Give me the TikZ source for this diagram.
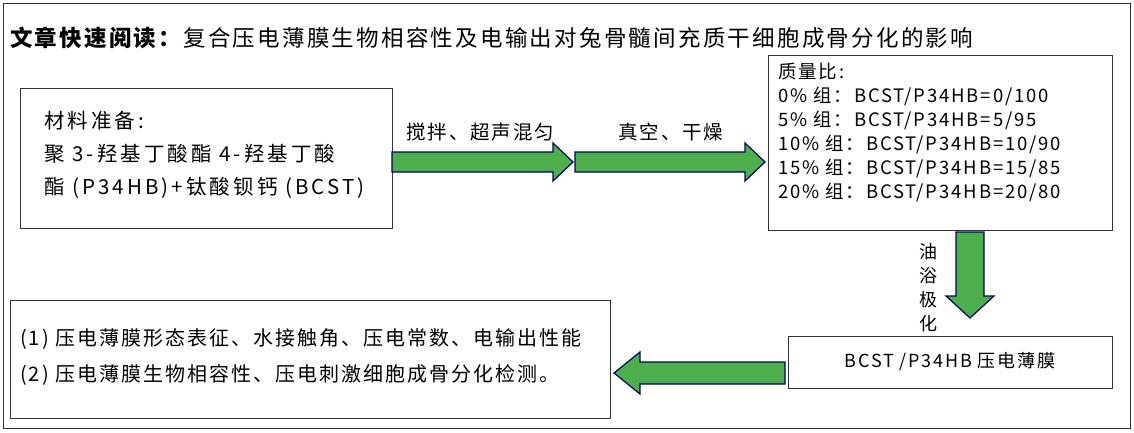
\documentclass[tikz,border=0pt]{standalone}
\usepackage{fontspec}
\newfontfamily\cjk[LetterSpace=10]{Noto Sans CJK SC}
\newfontfamily\cjkw[LetterSpace=15]{Noto Sans CJK SC}
\setmainfont{Liberation Sans}
\begin{document}
\begin{tikzpicture}[x=1pt,y=-1pt,
  box/.style={draw=black!80,line width=0.8pt,fill=white},
  garrow/.style={draw=blue!40!black,line width=1.2pt,fill=green!55!black!70!white,line join=miter},
  txt/.style={font=\fontsize{18}{24}\selectfont\cjk,anchor=west,inner sep=0pt}]
\useasboundingbox (0,0) rectangle (1134,432);
\draw[black!80,line width=0.8pt] (3,3) rectangle (1130,428);
\node[txt,font=\fontsize{22.5}{24}\selectfont\cjk] (title) at (10,38) {\textbf{文章快速阅读：}复合压电薄膜生物相容性及电输出对兔骨髓间充质干细胞成骨分化的影响};
% boxes
\draw[box] (20,88) rectangle (392,228);
\node[txt,align=left,anchor=north west,font=\fontsize{20.5}{33}\selectfont\cjkw] (b1) at (44,111) {材料准备:\\聚 3-羟基丁酸酯 4-羟基丁酸\\酯 (P34HB)+钛酸钡钙 (BCST)};
\draw[box] (768,55) rectangle (1112,230);
\node[txt,align=left,anchor=north west,font=\fontsize{18.5}{24}\selectfont\cjk] (b2) at (778,63) {质量比:\\0\% 组：BCST/P34HB=0/100\\5\% 组：BCST/P34HB=5/95\\10\% 组：BCST/P34HB=10/90\\15\% 组：BCST/P34HB=15/85\\20\% 组：BCST/P34HB=20/80};
\draw[box] (788,336) rectangle (1112,388);
\node[txt,anchor=center] (b3) at (950,362) {BCST /P34HB 压电薄膜};
\draw[box] (10,300) rectangle (610,418);
\node[txt,align=left,anchor=north west,font=\fontsize{20}{36}\selectfont\cjk] (b4) at (20,328) {(1) 压电薄膜形态表征、水接触角、压电常数、电输出性能\\(2) 压电薄膜生物相容性、压电刺激细胞成骨分化检测。};
% arrows
\draw[garrow] (392,152)--(553,152)--(553,143)--(573,162)--(553,181)--(553,172)--(392,172)--cycle;
\draw[garrow] (575,152)--(745,152)--(745,143)--(765,162)--(745,181)--(745,172)--(575,172)--cycle;
\draw[garrow] (956,232)--(984,232)--(984,296)--(994,296)--(970,318)--(946,296)--(956,296)--cycle;
\draw[garrow] (785,362)--(640,362)--(640,352)--(614,373)--(640,394)--(640,384)--(785,384)--cycle;
% labels
\node[txt,font=\fontsize{19.5}{20}\selectfont\cjk] (l1) at (406,132) {搅拌、超声混匀};
\node[txt,font=\fontsize{19.5}{20}\selectfont\cjk] (l2) at (618,132) {真空、干燥};
\node[txt,align=center,anchor=center,font=\fontsize{18}{24}\selectfont\cjk] (l3) at (928,288) {油\\浴\\极\\化};
\end{tikzpicture}
\end{document}
